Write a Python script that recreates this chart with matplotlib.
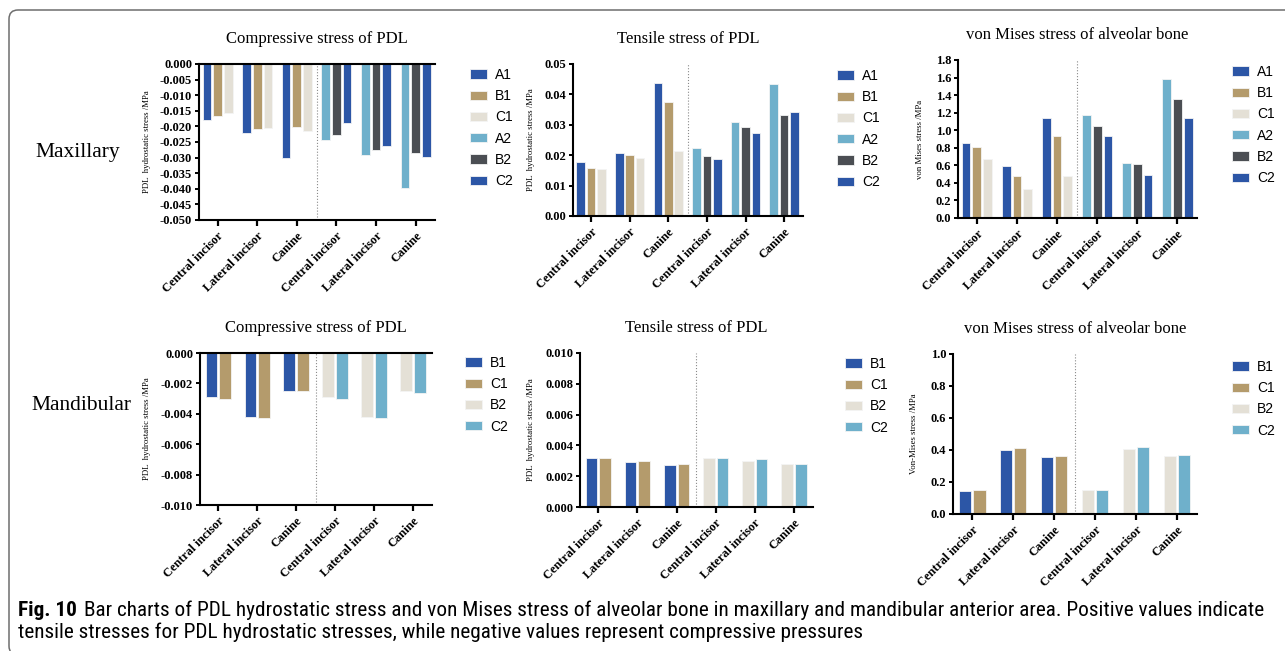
import matplotlib
matplotlib.use('Agg')
import matplotlib.pyplot as plt
import matplotlib.patches as mpatches
from matplotlib import font_manager
from matplotlib.transforms import IdentityTransform
import numpy as np

W, H = 1285, 651
plt.rcParams['axes.unicode_minus'] = False
SERIF = ['Liberation Serif', 'DejaVu Serif']
SANS = ['Liberation Sans', 'DejaVu Sans']

# caption font: a narrow sans if one is around, else Liberation Sans
installed = {f.name for f in font_manager.fontManager.ttflist}
narrow = [n for n in ['Liberation Sans Narrow', 'Roboto Condensed', 'Open Sans Condensed',
                      'DejaVu Sans Condensed'] if n in installed]
CAP = narrow[:1] + ['Liberation Sans', 'DejaVu Sans']

teeth = ['Central incisor', 'Lateral incisor', 'Canine',
         'Central incisor', 'Lateral incisor', 'Canine']

# maxillary: A1/B1/C1 on first three teeth, A2/B2/C2 on last three
max_labels = ['A1', 'B1', 'C1', 'A2', 'B2', 'C2']
max_colors = ['#2C56A6', '#B49B6C', '#E4E0D6', '#6FB0CB', '#4B4E53', '#2C56A6']

max_comp_1 = [[-0.0179, -0.0222, -0.0302],   # A1
              [-0.0167, -0.0208, -0.0201],   # B1
              [-0.0158, -0.0206, -0.0214]]   # C1
max_comp_2 = [[-0.0244, -0.0292, -0.0399],   # A2
              [-0.0228, -0.0276, -0.0284],   # B2
              [-0.0189, -0.0263, -0.0297]]   # C2

max_tens_1 = [[0.0179, 0.0206, 0.0436],
              [0.0159, 0.0201, 0.0374],
              [0.0154, 0.0190, 0.0215]]
max_tens_2 = [[0.0225, 0.0308, 0.0434],
              [0.0198, 0.0294, 0.0332],
              [0.0186, 0.0272, 0.0341]]

max_vm_1 = [[0.86, 0.59, 1.14],
            [0.81, 0.48, 0.93],
            [0.67, 0.33, 0.48]]
max_vm_2 = [[1.17, 0.63, 1.58],
            [1.05, 0.62, 1.36],
            [0.93, 0.485, 1.14]]

# mandibular: B1/C1 on first three teeth, B2/C2 on last three
man_labels = ['B1', 'C1', 'B2', 'C2']
man_colors = ['#2C56A6', '#B49B6C', '#E4E0D6', '#6FB0CB']

man_comp_1 = [[-0.0029, -0.0042, -0.0025],
              [-0.0030, -0.0043, -0.0025]]
man_comp_2 = [[-0.0029, -0.0042, -0.0025],
              [-0.0030, -0.0043, -0.0026]]

man_tens_1 = [[0.0032, 0.0029, 0.0027],
              [0.0032, 0.0030, 0.0028]]
man_tens_2 = [[0.0032, 0.0030, 0.0028],
              [0.0032, 0.0031, 0.0028]]

man_vm_1 = [[0.142, 0.400, 0.356],
            [0.148, 0.410, 0.365]]
man_vm_2 = [[0.148, 0.408, 0.360],
            [0.152, 0.419, 0.369]]

fig = plt.figure(figsize=(W / 100, H / 100), dpi=100)


def add_panel(l, t, r, b):
    return fig.add_axes([l / W, 1 - b / H, (r - l) / W, (b - t) / H])


def draw_bars(ax, half1, half2, labels, colors, width, offsets):
    pos1 = np.arange(3)
    pos2 = np.arange(3, 6)
    n = len(half1)
    for i in range(n):
        ax.bar(pos1 + offsets[i], half1[i], width, color=colors[i],
               edgecolor='#F4F4F4', linewidth=0.6, label=labels[i], zorder=2)
    for i in range(n):
        ax.bar(pos2 + offsets[i], half2[i], width, color=colors[n + i],
               edgecolor='#F4F4F4', linewidth=0.6, label=labels[n + i], zorder=2)


def style(ax, title, ylo, yhi, step, dec, ylab, ylab_px, left_px, right_px, leg_px):
    ax.set_xlim(-0.47, 5.49)
    ax.set_ylim(ylo, yhi)
    ticks = np.round(np.arange(ylo, yhi + step / 2, step), 6) + 0.0
    ax.set_yticks(ticks)
    ax.set_yticklabels([f'{v:.{dec}f}' if abs(v) > 1e-9 else f'{0:.{dec}f}' for v in ticks],
                       fontfamily=SERIF, fontweight='bold', fontsize=9)
    ax.set_xticks(np.arange(6))
    ax.set_xticklabels(teeth, rotation=45, ha='right', rotation_mode='anchor',
                       fontfamily=SERIF, fontweight='bold', fontsize=9)
    ax.tick_params(axis='x', length=4, width=1.6, pad=3, direction='out')
    ax.tick_params(axis='y', length=3, width=1.4, pad=2, direction='out')
    ax.spines['right'].set_visible(False)
    ax.spines['top'].set_visible(yhi == 0)
    for s in ['left', 'bottom', 'top']:
        ax.spines[s].set_linewidth(1.5)
    ax.axvline(2.5, color='#8A8A8A', linestyle=':', linewidth=0.8, zorder=1)
    ax.set_title(title, fontfamily=SERIF, fontsize=12, pad=15)
    ax.set_ylabel(ylab, fontfamily=SERIF, fontsize=6.3)
    ax.yaxis.set_label_coords((ylab_px - left_px) / (right_px - left_px), 0.5)
    ax.legend(loc='upper left', bbox_to_anchor=(leg_px[0] / W, 1 - leg_px[1] / H),
              bbox_transform=fig.transFigure, frameon=False, borderpad=0,
              borderaxespad=0, handlelength=1.2, handleheight=0.65,
              handletextpad=0.6, labelspacing=0.52,
              prop={'family': SANS, 'size': 10})


pdl_lab = 'PDL  hydrostatic stress /MPa'
mx_off = [-0.27, 0.0, 0.27]
mn_off = [-0.175, 0.175]

ax1 = add_panel(199, 64, 435, 220)
draw_bars(ax1, max_comp_1, max_comp_2, max_labels, max_colors, 0.22, mx_off)
style(ax1, 'Compressive stress of PDL', -0.05, 0.0, 0.005, 3, pdl_lab, 151, 199, 435, (470, 68))

ax2 = add_panel(573, 64, 803, 216)
draw_bars(ax2, max_tens_1, max_tens_2, max_labels, max_colors, 0.22, mx_off)
style(ax2, 'Tensile stress of PDL', 0.0, 0.05, 0.01, 2, pdl_lab, 535, 573, 803, (837, 69))

ax3 = add_panel(958, 60, 1197, 218)
draw_bars(ax3, max_vm_1, max_vm_2, max_labels, max_colors, 0.22, mx_off)
style(ax3, 'von Mises stress of alveolar bone', 0.0, 1.8, 0.2, 1,
      'von Mises stress /MPa', 924, 958, 1197, (1232, 65))

ax4 = add_panel(200, 353, 432, 505)
draw_bars(ax4, man_comp_1, man_comp_2, man_labels, man_colors, 0.30, mn_off)
style(ax4, 'Compressive stress of PDL', -0.01, 0.0, 0.002, 3, pdl_lab, 151, 200, 432, (465, 356))

ax5 = add_panel(580, 353, 813, 507)
draw_bars(ax5, man_tens_1, man_tens_2, man_labels, man_colors, 0.30, mn_off)
style(ax5, 'Tensile stress of PDL', 0.0, 0.01, 0.002, 3, pdl_lab, 535, 580, 813, (845, 357))

ax6 = add_panel(953, 354, 1197, 514)
draw_bars(ax6, man_vm_1, man_vm_2, man_labels, man_colors, 0.30, mn_off)
style(ax6, 'von Mises stress of alveolar bone', 0.0, 1.0, 0.2, 1,
      'Von-Mises stress /MPa', 918, 953, 1197, (1232, 360))

# row labels
fig.text(78 / W, 1 - 153 / H, 'Maxillary', fontfamily=SERIF, fontsize=15.5,
         ha='center', va='center')
fig.text(81 / W, 1 - 406 / H, 'Mandibular', fontfamily=SERIF, fontsize=15.5,
         ha='center', va='center')

# frame around the figure (bottom edge runs off the picture)
frame = mpatches.FancyBboxPatch((9, -4), 1400, H - 6,
                                boxstyle='round,pad=0,rounding_size=9',
                                transform=IdentityTransform(), fill=False,
                                edgecolor='#6E6E6E', linewidth=1.1)
fig.patches.append(frame)

# caption
line1 = ('Bar charts of PDL hydrostatic stress and von Mises stress of alveolar bone in '
         'maxillary and mandibular anterior area. Positive values indicate')
line2 = 'tensile stresses for PDL hydrostatic stresses, while negative values represent compressive pressures'
size = 12
fig.canvas.draw()
rend = fig.canvas.get_renderer()
tb = fig.text(18 / W, 1 - 616 / H, 'Fig. 10', fontfamily=CAP, fontweight='bold', fontsize=size)
ext = tb.get_window_extent(rend)
t1 = fig.text((ext.x1 + 7) / W, 1 - 616 / H, line1, fontfamily=CAP, fontsize=size)
e1 = t1.get_window_extent(rend)
size = size * (1268 - 18) / (e1.x1 - 18)
tb.set_fontsize(size)
ext = tb.get_window_extent(rend)
t1.set_fontsize(size)
t1.set_x((ext.x1 + 7) / W)
fig.text(18 / W, 1 - 638 / H, line2, fontfamily=CAP, fontsize=size)

fig.savefig('out.png', dpi=100)
